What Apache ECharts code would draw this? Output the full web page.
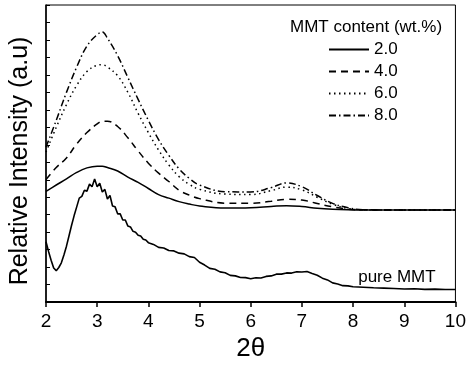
<!DOCTYPE html>
<html>
<head>
<meta charset="utf-8">
<script src="https://cdn.jsdelivr.net/npm/echarts@6/dist/echarts.min.js"></script>
<style>
  html, body { margin: 0; padding: 0; background: #fff; }
  #chart { width: 469px; height: 367px; }
</style>
</head>
<body>
<div id="chart"></div>
<script>
// XRD patterns (2θ in degrees, intensity in arbitrary offset units)
const theta = [2.0, 2.2, 2.4, 2.6, 2.8, 3.0, 3.1, 3.2, 3.4, 3.6, 3.8, 4.0, 4.2, 4.4, 4.6, 4.8, 5.0,
               5.5, 6.0, 6.4, 6.7, 7.0, 7.3, 7.6, 7.9, 8.2, 9.0, 10.0];
const mmt2 = [6.34, 6.70, 7.05, 7.42, 7.68, 7.78, 7.78, 7.70, 7.50, 7.15, 6.85, 6.50, 6.15, 5.95, 5.75, 5.61, 5.50,
              5.38, 5.40, 5.47, 5.52, 5.47, 5.37, 5.31, 5.28, 5.27, 5.27, 5.27];
const mmt4 = [7.01, 7.70, 8.25, 9.05, 9.70, 10.20, 10.35, 10.35, 10.05, 9.40, 8.65, 7.95, 7.38, 6.90, 6.40, 6.12, 5.92,
              5.66, 5.65, 5.77, 5.88, 5.84, 5.64, 5.45, 5.32, 5.28, 5.27, 5.27];
const mmt6 = [8.59, 10.00, 11.30, 12.40, 13.19, 13.55, 13.58, 13.45, 12.95, 12.00, 10.80, 9.70, 8.70, 7.85, 7.18, 6.74, 6.45,
              6.18, 6.15, 6.38, 6.58, 6.42, 6.00, 5.60, 5.36, 5.28, 5.27, 5.27];
const mmt8 = [8.87, 10.40, 12.00, 13.45, 14.65, 15.30, 15.45, 15.10, 14.10, 12.85, 11.60, 10.40, 9.30, 8.40, 7.62, 7.08, 6.70,
              6.32, 6.30, 6.55, 6.82, 6.60, 6.10, 5.65, 5.40, 5.29, 5.27, 5.27];

const pureTheta = [2.00, 2.05, 2.10, 2.15, 2.20, 2.25, 2.30, 2.35, 2.40, 2.45, 2.50, 2.55,
                   2.60, 2.65, 2.70, 2.75, 2.80, 2.85, 2.90, 2.95, 3.00, 3.05, 3.10, 3.15, 3.20, 3.25,
                   3.30, 3.35, 3.40, 3.45, 3.50, 3.55, 3.60, 3.65, 3.70, 3.75, 3.80, 3.85, 3.90, 3.95, 4.00,
                   4.1, 4.2, 4.3, 4.4, 4.5, 4.6, 4.7, 4.8, 4.9, 5.0, 5.1, 5.2, 5.3, 5.4, 5.5, 5.6, 5.7, 5.8, 5.9,
                   6.0, 6.1, 6.2, 6.3, 6.4, 6.5, 6.6, 6.7, 6.8, 6.9, 7.0, 7.1, 7.2, 7.3, 7.4, 7.5, 7.6, 7.7, 7.8, 7.9,
                   8.0, 8.2, 8.4, 8.6, 8.8, 9.0, 9.2, 9.4, 9.6, 9.8, 10.0];
const pureMMT = [3.45, 2.90, 2.40, 1.95, 1.80, 1.98, 2.25, 2.70, 3.20, 3.80, 4.40, 4.95,
                 5.45, 5.95, 6.05, 6.40, 6.35, 6.75, 6.60, 7.05, 6.60, 6.80, 6.30, 6.45, 5.90, 6.10,
                 5.50, 5.45, 5.05, 5.05, 4.70, 4.70, 4.35, 4.30, 4.05, 4.00, 3.82, 3.78, 3.60, 3.55, 3.40,
                 3.30, 3.13, 3.10, 2.95, 2.93, 2.80, 2.76, 2.60, 2.55, 2.28, 2.12, 1.93, 1.88, 1.73, 1.68, 1.53, 1.50, 1.41, 1.40,
                 1.34, 1.39, 1.38, 1.47, 1.50, 1.60, 1.60, 1.67, 1.66, 1.74, 1.72, 1.75, 1.64, 1.54, 1.37, 1.27, 1.10, 1.04, 0.94, 0.93,
                 0.88, 0.85, 0.82, 0.80, 0.78, 0.75, 0.76, 0.73, 0.74, 0.72, 0.72];

const xTicks = [2, 3, 4, 5, 6, 7, 8, 9, 10];
const legendNames = ['2.0', '4.0', '6.0', '8.0'];

const FONT = 'Liberation Sans, Arial, Helvetica, sans-serif';
const pairs = (xs, ys) => xs.map((x, i) => [x, ys[i]]);

function lineSeries(name, ys, dash) {
  return {
    name: name,
    type: 'line',
    data: pairs(theta, ys),
    smooth: 0.4,
    showSymbol: false,
    symbol: 'none',
    itemStyle: { color: '#000' },
    lineStyle: { color: '#000', width: 1.5, type: dash },
    silent: true
  };
}

const chart = echarts.init(document.getElementById('chart'), null, { renderer: 'canvas' });
chart.setOption({
  animation: false,
  backgroundColor: '#fff',
  textStyle: { fontFamily: FONT, color: '#000' },
  grid: { left: 46, right: 11, top: 5, bottom: 59, show: true, borderColor: '#000', borderWidth: 1 },
  title: {
    text: 'MMT content (wt.%)',
    left: 285, top: 14,
    textStyle: { fontFamily: FONT, fontSize: 17, fontWeight: 'normal', color: '#000' }
  },
  legend: {
    data: legendNames,
    orient: 'vertical',
    left: 323, top: 36,
    itemWidth: 40, itemHeight: 17, itemGap: 5,
    itemStyle: { opacity: 0 },
    textStyle: { fontFamily: FONT, fontSize: 17, color: '#000' },
    selectedMode: false
  },
  xAxis: {
    type: 'value',
    min: 2, max: 10, interval: 1,
    name: '2θ',
    nameLocation: 'middle',
    nameGap: 30,
    nameTextStyle: { fontFamily: FONT, fontSize: 26, color: '#000' },
    axisLine: { lineStyle: { color: '#000', width: 2 } },
    axisTick: { inside: false, length: 5, lineStyle: { color: '#000', width: 1.5 } },
    axisLabel: {
      fontFamily: FONT, fontSize: 19, color: '#000', margin: 10,
      formatter: v => (xTicks.indexOf(v) >= 0 ? String(v) : '')
    },
    splitLine: { show: false }
  },
  yAxis: {
    type: 'value',
    min: 0, max: 17, interval: 1,
    axisLine: { show: true, lineStyle: { color: '#000', width: 1.5 } },
    axisTick: { inside: true, length: 4, lineStyle: { color: '#000', width: 1 } },
    axisLabel: { show: false },
    splitLine: { show: false }
  },
  series: [
    lineSeries('2.0', mmt2, 'solid'),
    lineSeries('4.0', mmt4, [7, 5]),
    lineSeries('6.0', mmt6, [1.5, 3.5]),
    lineSeries('8.0', mmt8, [7, 3, 1.5, 3]),
    {
      name: 'pure MMT',
      type: 'line',
      data: pairs(pureTheta, pureMMT),
      showSymbol: false,
      symbol: 'none',
      itemStyle: { color: '#000' },
      lineStyle: { color: '#000', width: 1.6 },
      silent: true
    }
  ]
});

// Curve annotation placed in data space next to the pure MMT trace
const labelPos = chart.convertToPixel({ gridIndex: 0 }, [8.1, 1.4]);
chart.setOption({
  graphic: [
    {
      type: 'text',
      x: labelPos[0], y: labelPos[1],
      style: { text: 'pure MMT', fontFamily: FONT, fontSize: 17, fill: '#000', verticalAlign: 'middle' }
    },
    {
      // rotated y-axis title
      type: 'text',
      x: 20, y: 161,
      rotation: Math.PI / 2,
      style: {
        text: 'Relative Intensity (a.u)', fontFamily: FONT, fontSize: 25, fill: '#000',
        align: 'center', verticalAlign: 'middle'
      }
    }
  ]
});
</script>
</body>
</html>
